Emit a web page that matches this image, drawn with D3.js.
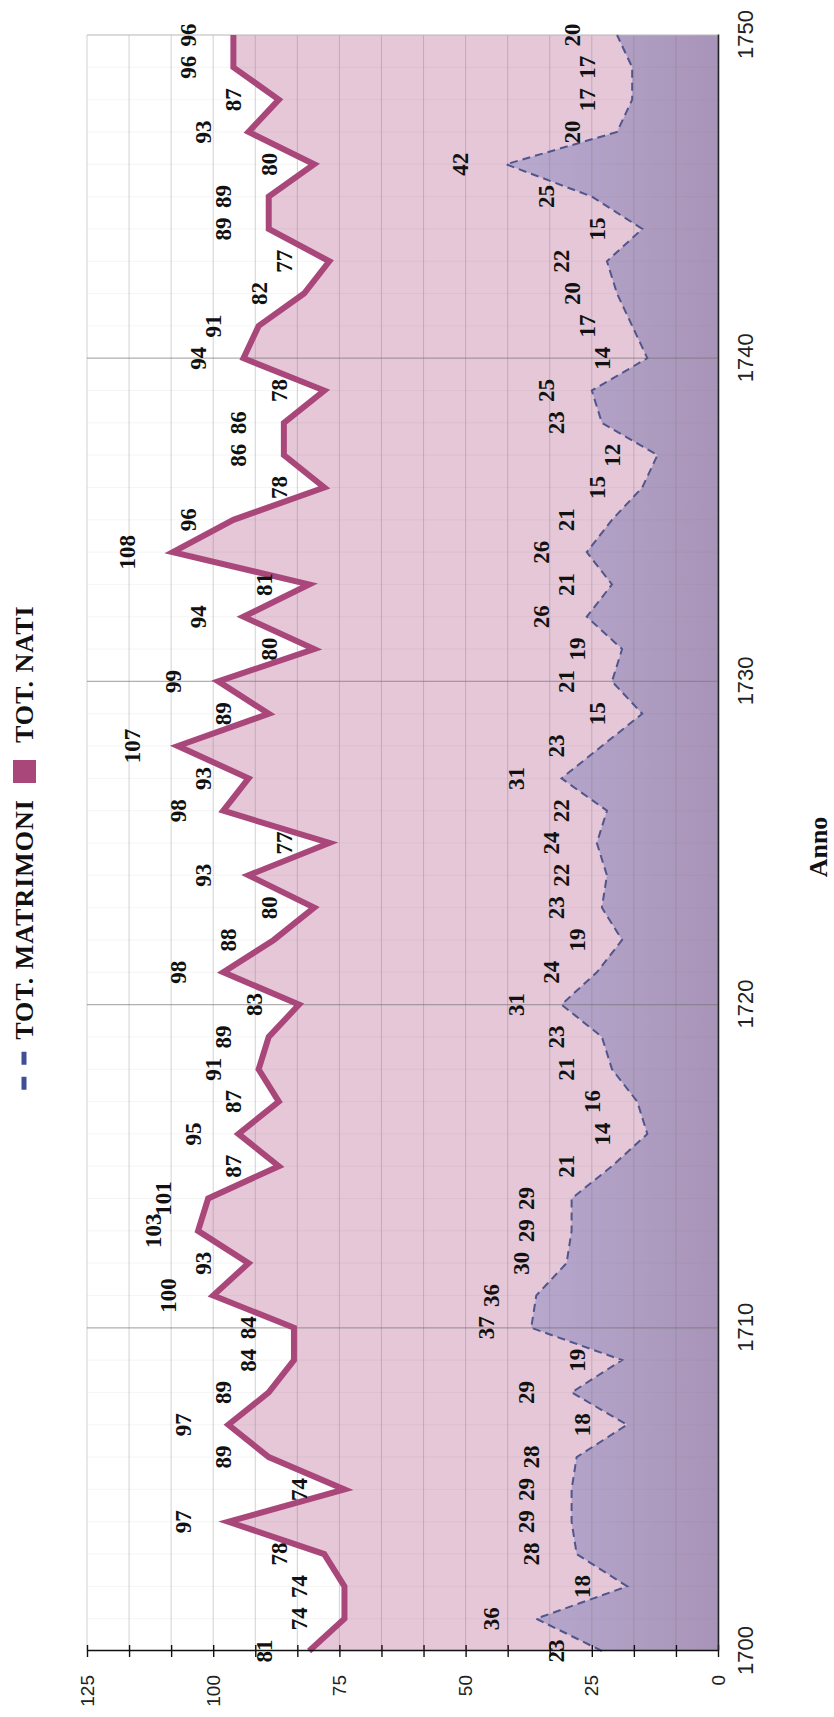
<!DOCTYPE html>
<html>
<head>
<meta charset="utf-8">
<script src="https://cdn.jsdelivr.net/npm/d3@7"></script>
<style>
  html, body { margin: 0; padding: 0; background: #ffffff; }
  svg { display: block; }
</style>
</head>
<body>
<svg id="chart" width="834" height="1717"></svg>
<script>
// Years on the category axis
const years = [1700, 1701, 1702, 1703, 1704, 1705, 1706, 1707, 1708, 1709,
               1710, 1711, 1712, 1713, 1714, 1715, 1716, 1717, 1718, 1719,
               1720, 1721, 1722, 1723, 1724, 1725, 1726, 1727, 1728, 1729,
               1730, 1731, 1732, 1733, 1734, 1735, 1736, 1737, 1738, 1739,
               1740, 1741, 1742, 1743, 1744, 1745, 1746, 1747, 1748, 1749,
               1750];

// Births per year
const nati = [81, 74, 74, 78, 97, 74, 89, 97, 89, 84,
              84, 100, 93, 103, 101, 87, 95, 87, 91, 89,
              83, 98, 88, 80, 93, 77, 98, 93, 107, 89,
              99, 80, 94, 81, 108, 96, 78, 86, 86, 78,
              94, 91, 82, 77, 89, 89, 80, 93, 87, 96,
              96];

// Marriages per year
const matrimoni = [23, 36, 18, 28, 29, 29, 28, 18, 29, 19,
                   37, 36, 30, 29, 29, 21, 14, 16, 21, 23,
                   31, 24, 19, 23, 22, 24, 22, 31, 23, 15,
                   21, 19, 26, 21, 26, 21, 15, 12, 23, 25,
                   14, 17, 20, 22, 15, 25, 42, 20, 17, 17,
                   20];

const valueTickLabels = [0, 25, 50, 75, 100, 125];
const yearTickLabels = [1700, 1710, 1720, 1730, 1740, 1750];
const legendLabels = ["TOT. MATRIMONI", "TOT. NATI"];
const axisTitle = "Anno";

// The chart is laid out in a landscape frame and turned a quarter turn
const W = 1717, H = 834;
const svg = d3.select("#chart");
const root = svg.append("g").attr("transform", `translate(0,${W}) rotate(-90)`);

const x = d3.scalePoint().domain(years).range([66, 1682]);
const y = d3.scaleLinear().domain([0, 125]).range([718, 87]);

const colNati = "#a9477b";
const colPink = "#e5c7d7";
const colMatr = "#50568c";

// Gradient for the marriages area
const defs = svg.append("defs");
const grad = defs.append("linearGradient")
  .attr("id", "matrGrad")
  .attr("gradientUnits", "userSpaceOnUse")
  .attr("x1", 0).attr("x2", 0)
  .attr("y1", y(42)).attr("y2", y(0));
grad.append("stop").attr("offset", "0%").attr("stop-color", "#b9aad0");
grad.append("stop").attr("offset", "100%").attr("stop-color", "#a894b8");

// Areas
const areaGen = d3.area()
  .x((d, i) => x(years[i])).y0(y(0)).y1(d => y(d));
root.append("path").datum(nati)
  .attr("d", areaGen).attr("fill", colPink);

root.append("path").datum(matrimoni)
  .attr("d", areaGen).attr("fill", "url(#matrGrad)");

// Faint yearly gridlines
root.append("g").selectAll("line").data(years).join("line")
  .attr("x1", d => x(d)).attr("x2", d => x(d))
  .attr("y1", y(125)).attr("y2", y(0))
  .attr("stroke", "#777").attr("stroke-opacity", 0.07).attr("stroke-width", 1);

// Value gridlines (fifteen steps up to 125)
const gridVals = d3.range(0, 16).map(i => i * 125 / 15);
root.append("g").selectAll("line").data(gridVals).join("line")
  .attr("x1", x(1700)).attr("x2", x(1750))
  .attr("y1", d => y(d)).attr("y2", d => y(d))
  .attr("stroke", "#7a7a7a").attr("stroke-opacity", 0.35).attr("stroke-width", 1);

// Decade gridlines
root.append("g").selectAll("line").data(yearTickLabels.slice(1, -1)).join("line")
  .attr("x1", d => x(d)).attr("x2", d => x(d))
  .attr("y1", y(125)).attr("y2", y(0))
  .attr("stroke", "#777").attr("stroke-opacity", 0.55).attr("stroke-width", 1.2);

// Top border of the plot
root.append("line")
  .attr("x1", x(1750)).attr("x2", x(1750))
  .attr("y1", y(125)).attr("y2", y(0))
  .attr("stroke", "#bbb").attr("stroke-width", 1);

// Lines
const lineGen = d3.line().x((d, i) => x(years[i])).y(d => y(d));
root.append("path").datum(nati)
  .attr("d", lineGen).attr("fill", "none")
  .attr("stroke", colNati).attr("stroke-width", 6)
  .attr("stroke-linejoin", "miter");

root.append("path").datum(matrimoni)
  .attr("d", lineGen).attr("fill", "none")
  .attr("stroke", colMatr).attr("stroke-width", 2)
  .attr("stroke-dasharray", "8,5");

// Value axis
const yAxis = root.append("g")
  .attr("transform", `translate(${x(1700)},0)`)
  .call(d3.axisLeft(y).tickValues(gridVals).tickSizeInner(6).tickSizeOuter(0)
    .tickPadding(18)
    .tickFormat(v => valueTickLabels.some(t => Math.abs(t - v) < 1e-6) ? d3.format("d")(v) : ""));
yAxis.select(".domain").attr("stroke", "#111").attr("stroke-width", 1.6);
yAxis.selectAll(".tick line").attr("x1", 6).attr("stroke", "#111").attr("stroke-width", 1.4);
yAxis.selectAll("text")
  .attr("font-family", "'Liberation Sans', Arial, sans-serif")
  .attr("font-size", 19).attr("fill", "#222");

// Category axis
const xAxis = root.append("g")
  .attr("transform", `translate(0,${y(0)})`)
  .call(d3.axisBottom(x).tickValues(yearTickLabels).tickSize(0).tickPadding(19)
    .tickFormat(d3.format("d")));
xAxis.select(".domain").attr("stroke", "#222").attr("stroke-width", 1.6);
xAxis.selectAll("text")
  .attr("font-family", "'Liberation Sans', Arial, sans-serif")
  .attr("font-size", 22).attr("fill", "#222");

// Data labels
const labelFont = "'Liberation Serif', 'Times New Roman', serif";
function drawLabels(series) {
  root.append("g").selectAll("text").data(series).join("text")
    .attr("x", (d, i) => x(years[i]))
    .attr("y", d => y(d) - 45)
    .attr("text-anchor", "middle")
    .attr("dominant-baseline", "central")
    .attr("font-family", labelFont)
    .attr("font-weight", "bold")
    .attr("font-size", 23)
    .attr("fill", "#111")
    .text(d => d);
}
drawLabels(matrimoni);
drawLabels(nati);

// Axis title
root.append("text")
  .attr("x", 870).attr("y", 818)
  .attr("text-anchor", "middle").attr("dominant-baseline", "central")
  .attr("font-family", labelFont).attr("font-weight", "bold")
  .attr("font-size", 26).attr("fill", "#111")
  .text(axisTitle);

// Legend
const legend = root.append("g").attr("transform", "translate(0,24)");
legend.append("text")
  .attr("x", 974).attr("y", 0)
  .attr("dominant-baseline", "central")
  .attr("font-family", labelFont).attr("font-size", 26)
  .attr("font-weight", "bold")
  .attr("letter-spacing", 1).attr("fill", "#111")
  .text(legendLabels[1]);
legend.append("rect")
  .attr("x", 934).attr("y", -11).attr("width", 23).attr("height", 23)
  .attr("fill", colNati);
const nameMatr = legend.append("text")
  .attr("x", 918).attr("y", 0)
  .attr("text-anchor", "end")
  .attr("dominant-baseline", "central")
  .attr("font-family", labelFont).attr("font-size", 26)
  .attr("font-weight", "bold")
  .attr("letter-spacing", 1).attr("fill", "#111")
  .text(legendLabels[0]);
const matrLen = nameMatr.node().getComputedTextLength();
const dashEnd = 918 - matrLen - 12;
legend.append("line")
  .attr("x1", dashEnd - 38).attr("x2", dashEnd)
  .attr("y1", 0).attr("y2", 0)
  .attr("stroke", "#3e4f98").attr("stroke-width", 5)
  .attr("stroke-dasharray", "13,12");
</script>
</body>
</html>
